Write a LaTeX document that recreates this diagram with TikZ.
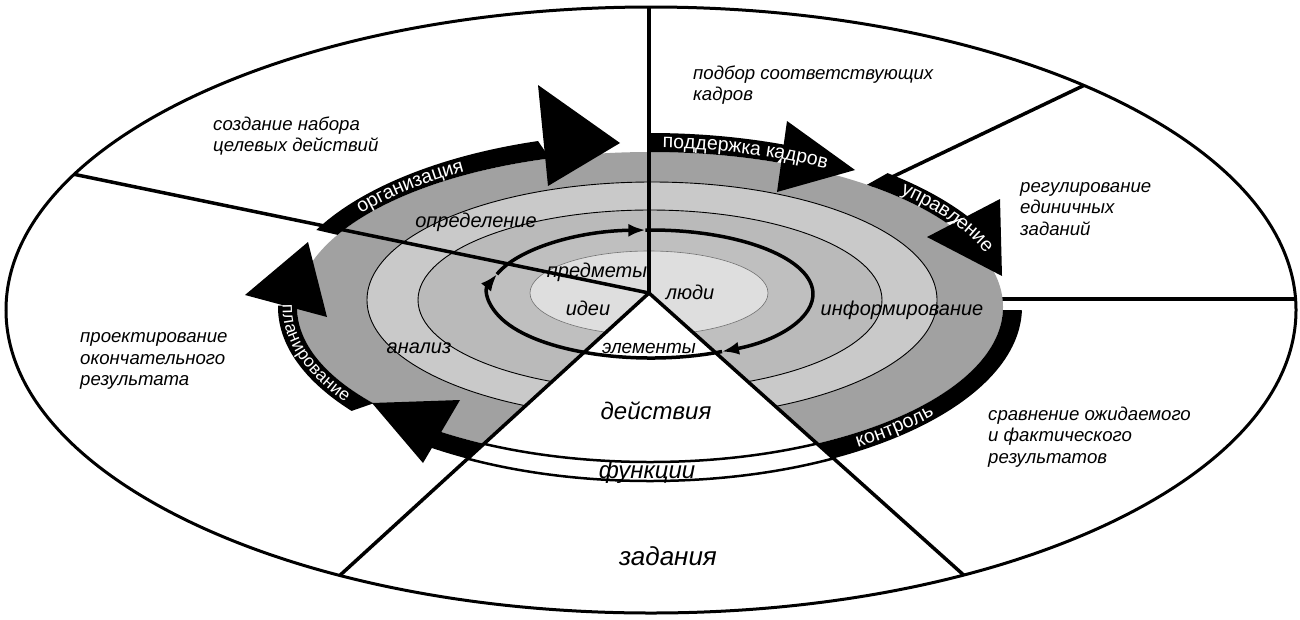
\documentclass[tikz,border=0pt]{standalone}
\usepackage{fontspec}
\setmainfont{Liberation Sans}
\usetikzlibrary{arrows.meta,calc,decorations.text}
\definecolor{outerband}{gray}{0.63}
\definecolor{ringB}{gray}{0.79}
\definecolor{ringA}{gray}{0.73}
\definecolor{ringT}{gray}{0.75}
\definecolor{core}{gray}{0.87}
\newcommand\bandfont{\fontsize{19.5}{19.5}\selectfont}
\newcommand\planfont{\fontsize{17.5}{17.5}\selectfont}
\begin{document}
\begin{tikzpicture}[x=1pt,y=-1pt,
  ringline/.style={draw=black,line width=0.9pt},
  lbl/.style={font=\itshape\fontsize{20}{22}\selectfont,inner sep=0pt},
  biglbl/.style={font=\itshape\fontsize{24}{26}\selectfont,inner sep=0pt},
  desc/.style={font=\itshape\fontsize{18.6}{21.5}\selectfont,align=left,inner sep=0pt,anchor=west},
  divider/.style={line width=3.5pt,line cap=round},
  cyc/.style={line width=3.5pt,-{Latex[length=17pt,width=13pt]}},
  headtri/.style={fill=black},
  bandlabel/.style={decorate,decoration={text along path,text={|\bandfont|#1},
      text align=center,text color=white,raise=-5.3pt}},
  planlabel/.style={decorate,decoration={text along path,text={|\planfont|#1},
      text align=left,text color=white,raise=-4.8pt}}]
\useasboundingbox (0,0) rectangle (1300,619);
\fill[white] (0,0) rectangle (1300,619);

\coordinate (hub) at (649,293);
\coordinate (hubr) at (649,299);
\coordinate (c0) at (651,310);
\coordinate (cb) at (650,307);
\coordinate (tc) at (651,294);
\coordinate (ulfar) at (0,159);
\coordinate (urfar) at (1200,30);
\coordinate (upfar) at (649,0);
\coordinate (rrfar) at (1300,299);
\coordinate (llfar) at (279,631);
\coordinate (lrfar) at (1025,630);

% outer ellipse
\draw[line width=3pt] (c0) ellipse[x radius=645, y radius=303];

% lines behind the disk
\begin{scope}
  \clip (c0) ellipse[x radius=645, y radius=303];
  \draw[divider] (hub) -- (urfar);
  \draw[divider] (hubr) -- (rrfar);
\end{scope}

% disk rings
\fill[outerband] (cb) ellipse[x radius=353, y radius=155];
\filldraw[fill=ringB, ringline] (652,300) ellipse[x radius=285, y radius=118];
\filldraw[fill=ringA, ringline] (650,300) ellipse[x radius=232, y radius=90];
\fill[ringT] (tc) ellipse[x radius=162, y radius=64];
\filldraw[fill=core, draw=black!55, line width=0.6pt] (649,293) ellipse[x radius=119, y radius=42];

% black band segments
\foreach \a/\b in {193/236, 270/311.3, 330.6/344.1, 0.5/70, 120/149.3, 160.8/180.2} {
  \begin{scope}[shift={(650,307)}]
    \clip (0,0) -- (\a:900) -- (\b:900) -- cycle;
    \fill[black,even odd rule] (0,0) ellipse[x radius=372, y radius=174]
                               (0,0) ellipse[x radius=353, y radius=155];
  \end{scope}
}

% big arrowheads
\fill[headtri] (538,85) -- (620,143) -- (548,186) -- cycle;
\fill[headtri] (787,121) -- (855,170) -- (777,192) -- cycle;
\fill[headtri] (1000,199) -- (1002,276) -- (927,237) -- cycle;
\fill[headtri] (245,295) -- (308,242) -- (327,317) -- cycle;
\fill[headtri] (372,403) -- (460,400) -- (423,463) -- cycle;

% white wedge
\begin{scope}
  \clip (cb) ellipse[x radius=372, y radius=174];
  \fill[white] (hub) -- (llfar) -- (lrfar) -- cycle;
\end{scope}
\begin{scope}
  \clip (hub) -- (llfar) -- (lrfar) -- cycle;
  \draw[line width=2.5pt] (cb) ellipse[x radius=353, y radius=155];
  \draw[line width=2.5pt] (cb) ellipse[x radius=372, y radius=174];
\end{scope}

% cycle of thick arrows
\draw[cyc] ($(tc)+(64:162 and 64)$) arc[start angle=64, end angle=198, x radius=162, y radius=64];
\draw[cyc] ($(tc)+(198:162 and 64)$) arc[start angle=198, end angle=268, x radius=162, y radius=64];
\draw[cyc] ($(tc)+(268:162 and 64)$) arc[start angle=268, end angle=424, x radius=162, y radius=64];

% dividers on top
\begin{scope}
  \clip (c0) ellipse[x radius=645, y radius=303];
  \draw[divider] (hub) -- (ulfar);
  \draw[divider] (hub) -- (upfar);
  \draw[divider] (hub) -- (llfar);
  \draw[divider] (hub) -- (lrfar);
\end{scope}

% band labels (curved along the band)
\path[bandlabel={организация}] ($(cb)+(200:362.5 and 164.5)$) arc[start angle=200, end angle=250, x radius=362.5, y radius=164.5];
\path[bandlabel={поддержка кадров}] ($(cb)+(262:362.5 and 164.5)$) arc[start angle=262, end angle=311, x radius=362.5, y radius=164.5];
\path[bandlabel={управление}] ($(cb)+(310:362.5 and 164.5)$) arc[start angle=310, end angle=346, x radius=362.5, y radius=164.5];
\path[bandlabel={контроль}] ($(cb)+(64.5:362.5 and 164.5)$) arc[start angle=64.5, end angle=26.5, x radius=362.5, y radius=164.5];
\path[planlabel={планирование}] ($(cb)+(181:362.5 and 164.5)$) arc[start angle=181, end angle=130, x radius=362.5, y radius=164.5];

% descriptions
\node[desc] (t1) at (213,136) {создание набора\\целевых действий};
\node[desc] (t2) at (693,85) {подбор соответствующих\\кадров};
\node[desc] (t3) at (1020,209) {регулирование\\единичных\\заданий};
\node[desc] (t4) at (80,361) {проектирование\\окончательного\\результата};
\node[desc] (t5) at (988,437) {сравнение ожидаемого\\и фактического\\результатов};

% inner labels
\node[lbl] (idei) at (588,308) {идеи};
\node[lbl] (lyudi) at (690,292) {люди};
\node[lbl] (predm) at (597,272) {предметы};
\node[lbl, font=\itshape\fontsize{19}{21}\selectfont] (elem) at (649,348) {элементы};
\node[lbl] (opred) at (476,222) {определение};
\node[lbl] (analiz) at (419,348) {анализ};
\node[lbl] (inform) at (902,310) {информирование};
\node[biglbl] (deistv) at (656,411) {действия};
\node[biglbl] (funk) at (647,472) {функции};
\node[biglbl, font=\itshape\fontsize{26}{28}\selectfont] (zadan) at (668,556) {задания};
\end{tikzpicture}
\end{document}
